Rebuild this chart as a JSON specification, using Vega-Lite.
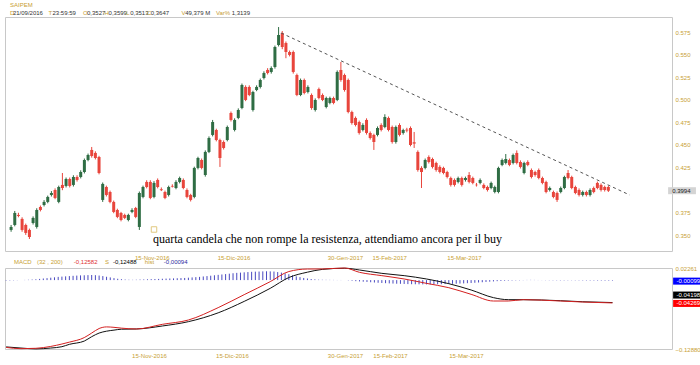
{
"$schema": "https://vega.github.io/schema/vega-lite/v6.json",
"background": "white",
"padding": {"left": 3, "top": 1, "right": 0, "bottom": 0},
"bounds": "flush",
"spacing": 17,
"config": {"font": "Liberation Sans", "view": {"stroke": "#c8c8c8"}, "axis": {"grid": false, "domain": false, "ticks": false, "labelColor": "#c8a033", "labelFontSize": 6, "labelFont": "Liberation Sans", "title": null, "labelOverlap": false}},
"datasets": {
"candles": [
{"i":0,"o":0.356,"h":0.3615,"l":0.354,"c":0.3593,"hs":-0.0009},
{"i":1,"o":0.3615,"h":0.377,"l":0.36,"c":0.3748,"hs":-0.0007},
{"i":2,"o":0.3726,"h":0.375,"l":0.37,"c":0.3715,"hs":-0.0005},
{"i":3,"o":0.3682,"h":0.37,"l":0.354,"c":0.356,"hs":-0.0003},
{"i":4,"o":0.3615,"h":0.363,"l":0.3505,"c":0.3527,"hs":0},
{"i":5,"o":0.356,"h":0.3575,"l":0.346,"c":0.3482,"hs":0.0003},
{"i":6,"o":0.3637,"h":0.371,"l":0.362,"c":0.3693,"hs":0.0006},
{"i":7,"o":0.3593,"h":0.38,"l":0.3575,"c":0.3781,"hs":0.001},
{"i":8,"o":0.3814,"h":0.383,"l":0.3765,"c":0.3781,"hs":0.0015},
{"i":9,"o":0.3836,"h":0.389,"l":0.382,"c":0.387,"hs":0.0022},
{"i":10,"o":0.387,"h":0.394,"l":0.3855,"c":0.3925,"hs":0.003},
{"i":11,"o":0.3947,"h":0.399,"l":0.393,"c":0.3969,"hs":0.0037},
{"i":12,"o":0.4002,"h":0.402,"l":0.39,"c":0.3914,"hs":0.0045},
{"i":13,"o":0.387,"h":0.405,"l":0.3855,"c":0.4035,"hs":0.0052},
{"i":14,"o":0.4058,"h":0.419,"l":0.4,"c":0.4024,"hs":0.006},
{"i":15,"o":0.4047,"h":0.414,"l":0.403,"c":0.4124,"hs":0.0065},
{"i":16,"o":0.4124,"h":0.414,"l":0.403,"c":0.4047,"hs":0.007},
{"i":17,"o":0.4058,"h":0.4165,"l":0.404,"c":0.4146,"hs":0.0075},
{"i":18,"o":0.4146,"h":0.4165,"l":0.4095,"c":0.4113,"hs":0.008},
{"i":19,"o":0.4146,"h":0.422,"l":0.413,"c":0.4201,"hs":0.0084},
{"i":20,"o":0.4201,"h":0.435,"l":0.4185,"c":0.4334,"hs":0.0088},
{"i":21,"o":0.4334,"h":0.4405,"l":0.432,"c":0.4389,"hs":0.009},
{"i":22,"o":0.4445,"h":0.4478,"l":0.436,"c":0.4378,"hs":0.0093},
{"i":23,"o":0.4412,"h":0.443,"l":0.434,"c":0.4356,"hs":0.0095},
{"i":24,"o":0.4367,"h":0.438,"l":0.4175,"c":0.419,"hs":0.0092},
{"i":25,"o":0.3892,"h":0.4085,"l":0.387,"c":0.4069,"hs":0.0085},
{"i":26,"o":0.4035,"h":0.405,"l":0.393,"c":0.3947,"hs":0.0075},
{"i":27,"o":0.398,"h":0.3995,"l":0.3855,"c":0.387,"hs":0.0062},
{"i":28,"o":0.387,"h":0.3885,"l":0.3745,"c":0.3759,"hs":0.005},
{"i":29,"o":0.3781,"h":0.3795,"l":0.369,"c":0.3704,"hs":0.0037},
{"i":30,"o":0.3748,"h":0.376,"l":0.3655,"c":0.367,"hs":0.0025},
{"i":31,"o":0.3726,"h":0.374,"l":0.368,"c":0.3693,"hs":0.0017},
{"i":32,"o":0.367,"h":0.374,"l":0.3655,"c":0.3726,"hs":0.001},
{"i":33,"o":0.3759,"h":0.38,"l":0.3745,"c":0.3781,"hs":0.0007},
{"i":34,"o":0.3803,"h":0.3815,"l":0.369,"c":0.3704,"hs":0.0005},
{"i":35,"o":0.3593,"h":0.3985,"l":0.356,"c":0.3969,"hs":0.0007},
{"i":36,"o":0.3925,"h":0.405,"l":0.391,"c":0.4035,"hs":0.001},
{"i":37,"o":0.4091,"h":0.411,"l":0.402,"c":0.4035,"hs":0.0012},
{"i":38,"o":0.4091,"h":0.411,"l":0.39,"c":0.3914,"hs":0.0015},
{"i":39,"o":0.3925,"h":0.41,"l":0.391,"c":0.408,"hs":0.0018},
{"i":40,"o":0.4113,"h":0.413,"l":0.402,"c":0.4035,"hs":0.002},
{"i":41,"o":0.401,"h":0.403,"l":0.399,"c":0.4,"hs":0.0022},
{"i":42,"o":0.398,"h":0.3995,"l":0.39,"c":0.3914,"hs":0.0025},
{"i":43,"o":0.3947,"h":0.405,"l":0.393,"c":0.4035,"hs":0.0028},
{"i":44,"o":0.4047,"h":0.4065,"l":0.403,"c":0.404,"hs":0.003},
{"i":45,"o":0.4024,"h":0.411,"l":0.401,"c":0.4091,"hs":0.0032},
{"i":46,"o":0.4091,"h":0.415,"l":0.4075,"c":0.4135,"hs":0.0035},
{"i":47,"o":0.4113,"h":0.413,"l":0.401,"c":0.4024,"hs":0.0038},
{"i":48,"o":0.4002,"h":0.402,"l":0.391,"c":0.3925,"hs":0.004},
{"i":49,"o":0.3947,"h":0.396,"l":0.3875,"c":0.3892,"hs":0.0045},
{"i":50,"o":0.3925,"h":0.426,"l":0.391,"c":0.4246,"hs":0.005},
{"i":51,"o":0.4246,"h":0.437,"l":0.423,"c":0.4356,"hs":0.0055},
{"i":52,"o":0.4334,"h":0.435,"l":0.423,"c":0.4246,"hs":0.006},
{"i":53,"o":0.4168,"h":0.444,"l":0.415,"c":0.4423,"hs":0.0068},
{"i":54,"o":0.4423,"h":0.4595,"l":0.441,"c":0.4577,"hs":0.0075},
{"i":55,"o":0.4611,"h":0.4777,"l":0.4595,"c":0.4754,"hs":0.0082},
{"i":56,"o":0.4666,"h":0.468,"l":0.454,"c":0.4555,"hs":0.009},
{"i":57,"o":0.4555,"h":0.457,"l":0.4257,"c":0.4356,"hs":0.0098},
{"i":58,"o":0.4533,"h":0.455,"l":0.445,"c":0.4467,"hs":0.0105},
{"i":59,"o":0.4555,"h":0.4715,"l":0.454,"c":0.4699,"hs":0.0112},
{"i":60,"o":0.4854,"h":0.487,"l":0.476,"c":0.4777,"hs":0.012},
{"i":61,"o":0.4666,"h":0.4795,"l":0.465,"c":0.4777,"hs":0.0128},
{"i":62,"o":0.4799,"h":0.4905,"l":0.4785,"c":0.4887,"hs":0.0135},
{"i":63,"o":0.4909,"h":0.518,"l":0.4895,"c":0.5164,"hs":0.014},
{"i":64,"o":0.5142,"h":0.516,"l":0.4985,"c":0.4998,"hs":0.0145},
{"i":65,"o":0.5142,"h":0.516,"l":0.504,"c":0.5053,"hs":0.015},
{"i":66,"o":0.4887,"h":0.51,"l":0.487,"c":0.5086,"hs":0.0155},
{"i":67,"o":0.5108,"h":0.516,"l":0.5095,"c":0.5142,"hs":0.0158},
{"i":68,"o":0.5142,"h":0.5235,"l":0.5125,"c":0.5219,"hs":0.016},
{"i":69,"o":0.5241,"h":0.5315,"l":0.5225,"c":0.5296,"hs":0.0163},
{"i":70,"o":0.533,"h":0.535,"l":0.528,"c":0.5296,"hs":0.0165},
{"i":71,"o":0.5308,"h":0.537,"l":0.529,"c":0.5352,"hs":0.0163},
{"i":72,"o":0.5363,"h":0.56,"l":0.5345,"c":0.5584,"hs":0.016},
{"i":73,"o":0.5606,"h":0.5805,"l":0.559,"c":0.5717,"hs":0.015},
{"i":74,"o":0.5739,"h":0.576,"l":0.556,"c":0.5584,"hs":0.014},
{"i":75,"o":0.5628,"h":0.5645,"l":0.546,"c":0.5529,"hs":0.0125},
{"i":76,"o":0.5529,"h":0.5545,"l":0.548,"c":0.5496,"hs":0.011},
{"i":77,"o":0.5529,"h":0.5545,"l":0.529,"c":0.5308,"hs":0.009},
{"i":78,"o":0.5274,"h":0.529,"l":0.504,"c":0.5053,"hs":0.007},
{"i":79,"o":0.5053,"h":0.5235,"l":0.504,"c":0.5219,"hs":0.0055},
{"i":80,"o":0.5219,"h":0.5235,"l":0.506,"c":0.5075,"hs":0.004},
{"i":81,"o":0.5086,"h":0.516,"l":0.507,"c":0.5142,"hs":0.003},
{"i":82,"o":0.5053,"h":0.507,"l":0.489,"c":0.4909,"hs":0.002},
{"i":83,"o":0.4887,"h":0.5015,"l":0.487,"c":0.4998,"hs":0.0014},
{"i":84,"o":0.5119,"h":0.5135,"l":0.5005,"c":0.502,"hs":0.0008},
{"i":85,"o":0.5053,"h":0.507,"l":0.4985,"c":0.4998,"hs":0.0006},
{"i":86,"o":0.492,"h":0.5035,"l":0.4905,"c":0.502,"hs":0.0005},
{"i":87,"o":0.4965,"h":0.5035,"l":0.495,"c":0.502,"hs":0.0004},
{"i":88,"o":0.502,"h":0.5035,"l":0.495,"c":0.4965,"hs":0.0003},
{"i":89,"o":0.4998,"h":0.5325,"l":0.4985,"c":0.5308,"hs":0.0002},
{"i":90,"o":0.533,"h":0.5418,"l":0.52,"c":0.5219,"hs":0.0002},
{"i":91,"o":0.5274,"h":0.529,"l":0.509,"c":0.5108,"hs":0},
{"i":92,"o":0.5219,"h":0.5235,"l":0.485,"c":0.4865,"hs":-0.0005},
{"i":93,"o":0.4865,"h":0.488,"l":0.4725,"c":0.4743,"hs":-0.0012},
{"i":94,"o":0.4799,"h":0.4815,"l":0.4705,"c":0.4721,"hs":-0.002},
{"i":95,"o":0.4754,"h":0.477,"l":0.4615,"c":0.4633,"hs":-0.0025},
{"i":96,"o":0.4666,"h":0.474,"l":0.465,"c":0.4721,"hs":-0.003},
{"i":97,"o":0.4777,"h":0.4795,"l":0.4615,"c":0.4633,"hs":-0.0035},
{"i":98,"o":0.4633,"h":0.465,"l":0.456,"c":0.4577,"hs":-0.004},
{"i":99,"o":0.4611,"h":0.4625,"l":0.4445,"c":0.4533,"hs":-0.0045},
{"i":100,"o":0.4611,"h":0.4705,"l":0.4595,"c":0.4688,"hs":-0.005},
{"i":101,"o":0.4721,"h":0.474,"l":0.465,"c":0.4666,"hs":-0.0054},
{"i":102,"o":0.4699,"h":0.484,"l":0.4685,"c":0.481,"hs":-0.0058},
{"i":103,"o":0.4799,"h":0.4815,"l":0.465,"c":0.4666,"hs":-0.0062},
{"i":104,"o":0.4699,"h":0.4715,"l":0.4515,"c":0.4533,"hs":-0.0065},
{"i":105,"o":0.4533,"h":0.4715,"l":0.4515,"c":0.4699,"hs":-0.0068},
{"i":106,"o":0.4721,"h":0.474,"l":0.4595,"c":0.4611,"hs":-0.007},
{"i":107,"o":0.4633,"h":0.468,"l":0.4615,"c":0.4666,"hs":-0.0072},
{"i":108,"o":0.467,"h":0.469,"l":0.464,"c":0.466,"hs":-0.0075},
{"i":109,"o":0.4688,"h":0.4705,"l":0.4485,"c":0.45,"hs":-0.0077},
{"i":110,"o":0.453,"h":0.4644,"l":0.4467,"c":0.4515,"hs":-0.0078},
{"i":111,"o":0.4423,"h":0.444,"l":0.4205,"c":0.4223,"hs":-0.0079},
{"i":112,"o":0.4246,"h":0.4265,"l":0.4024,"c":0.4201,"hs":-0.008},
{"i":113,"o":0.4246,"h":0.435,"l":0.423,"c":0.4334,"hs":-0.008},
{"i":114,"o":0.4367,"h":0.4385,"l":0.4295,"c":0.4312,"hs":-0.008},
{"i":115,"o":0.4345,"h":0.436,"l":0.424,"c":0.4257,"hs":-0.0079},
{"i":116,"o":0.4301,"h":0.4315,"l":0.4205,"c":0.4223,"hs":-0.0078},
{"i":117,"o":0.4257,"h":0.4275,"l":0.4185,"c":0.4201,"hs":-0.0077},
{"i":118,"o":0.4246,"h":0.426,"l":0.4175,"c":0.419,"hs":-0.0075},
{"i":119,"o":0.4201,"h":0.4215,"l":0.413,"c":0.4146,"hs":-0.0072},
{"i":120,"o":0.4135,"h":0.415,"l":0.404,"c":0.4058,"hs":-0.007},
{"i":121,"o":0.4113,"h":0.413,"l":0.404,"c":0.4058,"hs":-0.0068},
{"i":122,"o":0.4091,"h":0.415,"l":0.4075,"c":0.4135,"hs":-0.0065},
{"i":123,"o":0.4135,"h":0.415,"l":0.404,"c":0.4058,"hs":-0.0062},
{"i":124,"o":0.4113,"h":0.415,"l":0.4095,"c":0.4135,"hs":-0.0058},
{"i":125,"o":0.4168,"h":0.42,"l":0.4075,"c":0.4091,"hs":-0.0054},
{"i":126,"o":0.4135,"h":0.415,"l":0.4065,"c":0.408,"hs":-0.005},
{"i":127,"o":0.406,"h":0.408,"l":0.404,"c":0.4055,"hs":-0.0045},
{"i":128,"o":0.408,"h":0.413,"l":0.4065,"c":0.4113,"hs":-0.004},
{"i":129,"o":0.4058,"h":0.4075,"l":0.401,"c":0.4024,"hs":-0.0035},
{"i":130,"o":0.4035,"h":0.405,"l":0.3985,"c":0.4002,"hs":-0.003},
{"i":131,"o":0.4024,"h":0.4095,"l":0.401,"c":0.408,"hs":-0.0025},
{"i":132,"o":0.398,"h":0.405,"l":0.3965,"c":0.4035,"hs":-0.002},
{"i":133,"o":0.398,"h":0.426,"l":0.3965,"c":0.4246,"hs":-0.0016},
{"i":134,"o":0.4279,"h":0.435,"l":0.4265,"c":0.4334,"hs":-0.0012},
{"i":135,"o":0.4301,"h":0.44,"l":0.4285,"c":0.4345,"hs":-0.001},
{"i":136,"o":0.4334,"h":0.435,"l":0.4265,"c":0.4279,"hs":-0.0008},
{"i":137,"o":0.4301,"h":0.4405,"l":0.4285,"c":0.4389,"hs":-0.0006},
{"i":138,"o":0.4412,"h":0.444,"l":0.4285,"c":0.4301,"hs":-0.0005},
{"i":139,"o":0.4312,"h":0.433,"l":0.424,"c":0.4257,"hs":-0.0003},
{"i":140,"o":0.419,"h":0.4315,"l":0.4175,"c":0.4301,"hs":0.0003},
{"i":141,"o":0.4312,"h":0.433,"l":0.4265,"c":0.4279,"hs":0.0004},
{"i":142,"o":0.4223,"h":0.424,"l":0.413,"c":0.4146,"hs":0.0003},
{"i":143,"o":0.4201,"h":0.4215,"l":0.415,"c":0.4168,"hs":0.0002},
{"i":144,"o":0.4223,"h":0.424,"l":0.412,"c":0.4135,"hs":-0.0002},
{"i":145,"o":0.4135,"h":0.415,"l":0.4065,"c":0.408,"hs":-0.0003},
{"i":146,"o":0.4091,"h":0.4105,"l":0.3965,"c":0.398,"hs":-0.0004},
{"i":147,"o":0.4002,"h":0.404,"l":0.3985,"c":0.4024,"hs":-0.0005},
{"i":148,"o":0.398,"h":0.3995,"l":0.391,"c":0.3925,"hs":-0.0005},
{"i":149,"o":0.3969,"h":0.3985,"l":0.387,"c":0.3892,"hs":-0.0006},
{"i":150,"o":0.398,"h":0.404,"l":0.3965,"c":0.4024,"hs":-0.0006},
{"i":151,"o":0.4024,"h":0.416,"l":0.401,"c":0.4146,"hs":-0.0005},
{"i":152,"o":0.419,"h":0.4223,"l":0.412,"c":0.4135,"hs":-0.0004},
{"i":153,"o":0.4146,"h":0.416,"l":0.401,"c":0.4024,"hs":-0.0005},
{"i":154,"o":0.4035,"h":0.405,"l":0.3955,"c":0.3969,"hs":-0.0006},
{"i":155,"o":0.4002,"h":0.402,"l":0.393,"c":0.3947,"hs":-0.0007},
{"i":156,"o":0.3947,"h":0.3995,"l":0.393,"c":0.398,"hs":-0.0007},
{"i":157,"o":0.398,"h":0.3995,"l":0.393,"c":0.3947,"hs":-0.0008},
{"i":158,"o":0.3947,"h":0.402,"l":0.393,"c":0.4002,"hs":-0.0008},
{"i":159,"o":0.4024,"h":0.404,"l":0.3965,"c":0.398,"hs":-0.0009},
{"i":160,"o":0.408,"h":0.4095,"l":0.401,"c":0.4024,"hs":-0.0009},
{"i":161,"o":0.4058,"h":0.4075,"l":0.3985,"c":0.4002,"hs":-0.001},
{"i":162,"o":0.4035,"h":0.405,"l":0.3985,"c":0.4002,"hs":-0.001},
{"i":163,"o":0.4035,"h":0.405,"l":0.398,"c":0.3994,"hs":-0.00099}
],
"macd": [
{"i":0,"m":-0.1258,"s":-0.1249},
{"i":4,"m":-0.1282,"s":-0.127},
{"i":8,"m":-0.1275,"s":-0.1286},
{"i":12,"m":-0.124,"s":-0.127},
{"i":15,"m":-0.1195,"s":-0.1245},
{"i":17,"m":-0.116,"s":-0.1201},
{"i":21,"m":-0.1075,"s":-0.114},
{"i":23,"m":-0.099,"s":-0.1058},
{"i":25,"m":-0.0905,"s":-0.099},
{"i":27,"m":-0.0875,"s":-0.0955},
{"i":29,"m":-0.0883,"s":-0.0935},
{"i":31,"m":-0.0898,"s":-0.0918},
{"i":35,"m":-0.0914,"s":-0.0914},
{"i":42,"m":-0.0827,"s":-0.0858},
{"i":49,"m":-0.0746,"s":-0.0777},
{"i":57,"m":-0.0515,"s":-0.0612},
{"i":64,"m":-0.0272,"s":-0.0398},
{"i":71,"m":-0.0029,"s":-0.0154},
{"i":76,"m":0.016,"s":0.0048},
{"i":81,"m":0.0207,"s":0.0148},
{"i":85,"m":0.0208,"s":0.02},
{"i":91,"m":0.0226,"s":0.0222},
{"i":95,"m":0.0145,"s":0.0189},
{"i":101,"m":0.0083,"s":0.0126},
{"i":107,"m":0.0021,"s":0.0083},
{"i":113,"m":-0.0061,"s":0.0021},
{"i":119,"m":-0.0142,"s":-0.0067},
{"i":125,"m":-0.0266,"s":-0.0185},
{"i":131,"m":-0.0391,"s":-0.0328},
{"i":135,"m":-0.0391,"s":-0.0366},
{"i":139,"m":-0.0366,"s":-0.0366},
{"i":149,"m":-0.0391,"s":-0.0385},
{"i":155,"m":-0.041,"s":-0.0405},
{"i":163,"m":-0.04269,"s":-0.04198}
]
},
"vconcat": [
{
"width": 667, "height": 234,
"layer": [
{"data": {"name": "candles"}, "mark": {"type": "rule", "strokeWidth": 1},
 "encoding": {
  "x": {"field": "i", "type": "quantitative", "scale": {"domain": [-0.3, 179], "nice": false, "zero": false},
        "axis": {"orient": "bottom", "values": [38.4, 60.7, 91.1, 103.2, 123.6], "tickCount": 30, "labelPadding": 3, "labelOverlap": false, "labelExpr": "datum.value < 50 ? '15-Nov-2016' : datum.value < 80 ? '15-Dic-2016' : datum.value < 100 ? '30-Gen-2017' : datum.value < 110 ? '15-Feb-2017' : '15-Mar-2017'"}},
  "y": {"field": "l", "type": "quantitative", "scale": {"domain": [0.3327, 0.5916], "nice": false, "zero": false},
        "axis": {"orient": "right", "values": [0.35, 0.375, 0.425, 0.45, 0.475, 0.5, 0.525, 0.55, 0.575], "tickCount": 30, "format": ".3f", "labelPadding": 3, "labelOverlap": false}},
  "y2": {"field": "h"},
  "color": {"condition": {"test": "datum.c >= datum.o", "value": "#2f6d44"}, "value": "#e8453c"}
 }},
{"data": {"name": "candles"}, "mark": {"type": "bar", "size": 3},
 "encoding": {
  "x": {"field": "i", "type": "quantitative"},
  "y": {"field": "o", "type": "quantitative"},
  "y2": {"field": "c"},
  "color": {"condition": {"test": "datum.c >= datum.o", "value": "#2f6d44"}, "value": "#e8453c"}
 }},
{"data": {"values": [{"i": 73.7, "v": 0.5739}, {"i": 168.8, "v": 0.3947}]},
 "mark": {"type": "line", "strokeDash": [3, 3], "color": "#555555", "strokeWidth": 1},
 "encoding": {"x": {"field": "i", "type": "quantitative"}, "y": {"field": "v", "type": "quantitative"}}},
{"data": {"values": [{"i": 38.7, "v": 0.3416, "t": "quarta candela che non rompe la resistenza, attendiamo ancora per il buy"}]},
 "mark": {"type": "text", "align": "left", "baseline": "alphabetic", "font": "Liberation Serif", "fontSize": 12, "color": "#000000"},
 "encoding": {"x": {"field": "i", "type": "quantitative"}, "y": {"field": "v", "type": "quantitative"}, "text": {"field": "t"}}},
{"data": {"values": [{"i": 39, "v": 0.3565}]},
 "mark": {"type": "point", "shape": "square", "size": 30, "filled": false, "stroke": "#d6b24a", "strokeWidth": 1},
 "encoding": {"x": {"field": "i", "type": "quantitative"}, "y": {"field": "v", "type": "quantitative"}}},
{"data": {"values": [{}]},
 "mark": {"type": "rect", "fill": "#d4d4d4", "yOffset": -3.5, "y2Offset": 3.5},
 "encoding": {"x": {"datum": 179.3}, "x2": {"datum": 186.9}, "y": {"datum": 0.3994}, "y2": {"datum": 0.3994}}},
{"data": {"values": [{}]},
 "mark": {"type": "text", "align": "left", "baseline": "middle", "fontSize": 6, "color": "#222222"},
 "encoding": {"x": {"datum": 180.4}, "y": {"datum": 0.3994}, "text": {"value": "0.3994"}}},
{"data": {"values": [
  {"i": -0.3, "v": 0.6049, "t": "SAIPEM", "k": "p"},
  {"i": -0.3, "v": 0.5955, "t": "D", "k": "p"},
  {"i": 0.5, "v": 0.5955, "t": "21/09/2016", "k": "v"},
  {"i": 10.2, "v": 0.5955, "t": "T", "k": "p"},
  {"i": 11.3, "v": 0.5955, "t": "23:59:59", "k": "v"},
  {"i": 19.6, "v": 0.5955, "t": "O", "k": "p"},
  {"i": 20.7, "v": 0.5955, "t": "0,3527", "k": "v"},
  {"i": 25.5, "v": 0.5955, "t": "H", "k": "p"},
  {"i": 26.6, "v": 0.5955, "t": "0,3599", "k": "v"},
  {"i": 31.4, "v": 0.5955, "t": "L", "k": "p"},
  {"i": 32.5, "v": 0.5955, "t": "0,3513", "k": "v"},
  {"i": 37.1, "v": 0.5955, "t": "C", "k": "p"},
  {"i": 38.1, "v": 0.5955, "t": "0,3647", "k": "v"},
  {"i": 46.5, "v": 0.5955, "t": "V", "k": "p"},
  {"i": 47.5, "v": 0.5955, "t": "49,379 M", "k": "v"},
  {"i": 55.9, "v": 0.5955, "t": "Var%", "k": "p"},
  {"i": 60.2, "v": 0.5955, "t": "1,3139", "k": "v"}
 ]},
 "mark": {"type": "text", "align": "left", "baseline": "middle", "fontSize": 6},
 "encoding": {"x": {"field": "i", "type": "quantitative"}, "y": {"field": "v", "type": "quantitative"}, "text": {"field": "t"},
  "color": {"field": "k", "type": "nominal", "scale": {"domain": ["p", "v", "r", "b", "n"], "range": ["#c8a033", "#333333", "#e03030", "#000000", "#2a2aa0"]}, "legend": null}}}
]
},
{
"width": 667, "height": 81,
"layer": [
{"data": {"name": "candles"}, "mark": {"type": "rule", "color": "#4a4ac0", "strokeWidth": 1},
 "encoding": {
  "x": {"field": "i", "type": "quantitative", "scale": {"domain": [-0.3, 179], "nice": false, "zero": false},
        "axis": {"orient": "bottom", "values": [38.4, 60.7, 91.1, 103.2, 123.6], "tickCount": 30, "labelPadding": 3, "labelOverlap": false, "labelExpr": "datum.value < 50 ? '15-Nov-2016' : datum.value < 80 ? '15-Dic-2016' : datum.value < 100 ? '30-Gen-2017' : datum.value < 110 ? '15-Feb-2017' : '15-Mar-2017'"}},
  "y": {"field": "hs", "type": "quantitative", "scale": {"domain": [-0.1288, 0.02261], "nice": false, "zero": false},
        "axis": {"orient": "right", "values": [0.02261, -0.1288], "tickCount": 10, "format": ".5f", "labelPadding": 3, "labelOverlap": false}},
  "y2": {"datum": 0}
 }},
{"data": {"name": "macd"}, "mark": {"type": "line", "color": "#111111", "strokeWidth": 1, "interpolate": "monotone"},
 "encoding": {"x": {"field": "i", "type": "quantitative"}, "y": {"field": "s", "type": "quantitative"}}},
{"data": {"name": "macd"}, "mark": {"type": "line", "color": "#d42020", "strokeWidth": 1, "interpolate": "monotone"},
 "encoding": {"x": {"field": "i", "type": "quantitative"}, "y": {"field": "m", "type": "quantitative"}}},
{"data": {"values": [{}]},
 "mark": {"type": "rect", "fill": "#0000ff", "yOffset": -3, "y2Offset": 4},
 "encoding": {"x": {"datum": 179.3}, "x2": {"datum": 186.9}, "y": {"datum": -0.00099}, "y2": {"datum": -0.00099}}},
{"data": {"values": [{}]},
 "mark": {"type": "rect", "fill": "#000000", "yOffset": -11, "y2Offset": -4},
 "encoding": {"x": {"datum": 179.3}, "x2": {"datum": 186.9}, "y": {"datum": -0.04198}, "y2": {"datum": -0.04198}}},
{"data": {"values": [{}]},
 "mark": {"type": "rect", "fill": "#ff0000", "yOffset": -3, "y2Offset": 4},
 "encoding": {"x": {"datum": 179.3}, "x2": {"datum": 186.9}, "y": {"datum": -0.04269}, "y2": {"datum": -0.04269}}},
{"data": {"values": [{}]},
 "mark": {"type": "text", "align": "left", "baseline": "middle", "fontSize": 6, "color": "#ffffff", "dy": 0.5},
 "encoding": {"x": {"datum": 180.2}, "y": {"datum": -0.00099}, "text": {"value": "-0.00099"}}},
{"data": {"values": [{}]},
 "mark": {"type": "text", "align": "left", "baseline": "middle", "fontSize": 6, "color": "#ffffff", "dy": -7.5},
 "encoding": {"x": {"datum": 180.2}, "y": {"datum": -0.04198}, "text": {"value": "-0.04198"}}},
{"data": {"values": [{}]},
 "mark": {"type": "text", "align": "left", "baseline": "middle", "fontSize": 6, "color": "#ffffff", "dy": 0.5},
 "encoding": {"x": {"datum": 180.2}, "y": {"datum": -0.04269}, "text": {"value": "-0.04269"}}},
{"data": {"values": [
  {"i": 2.1, "v": 0.0338, "t": "MACD", "k": "p"},
  {"i": 8.3, "v": 0.0338, "t": "(32 , 200)", "k": "p"},
  {"i": 18.2, "v": 0.0338, "t": "-0,12582", "k": "r"},
  {"i": 26.6, "v": 0.0338, "t": "S", "k": "p"},
  {"i": 28.7, "v": 0.0338, "t": "-0,12488", "k": "b"},
  {"i": 37.3, "v": 0.0338, "t": "hist", "k": "p"},
  {"i": 42.4, "v": 0.0338, "t": "-0,00094", "k": "n"}
 ]},
 "mark": {"type": "text", "align": "left", "baseline": "middle", "fontSize": 6},
 "encoding": {"x": {"field": "i", "type": "quantitative"}, "y": {"field": "v", "type": "quantitative"}, "text": {"field": "t"},
  "color": {"field": "k", "type": "nominal", "scale": {"domain": ["p", "v", "r", "b", "n"], "range": ["#c8a033", "#333333", "#e03030", "#000000", "#2a2aa0"]}, "legend": null}}}
]
}
]
}
